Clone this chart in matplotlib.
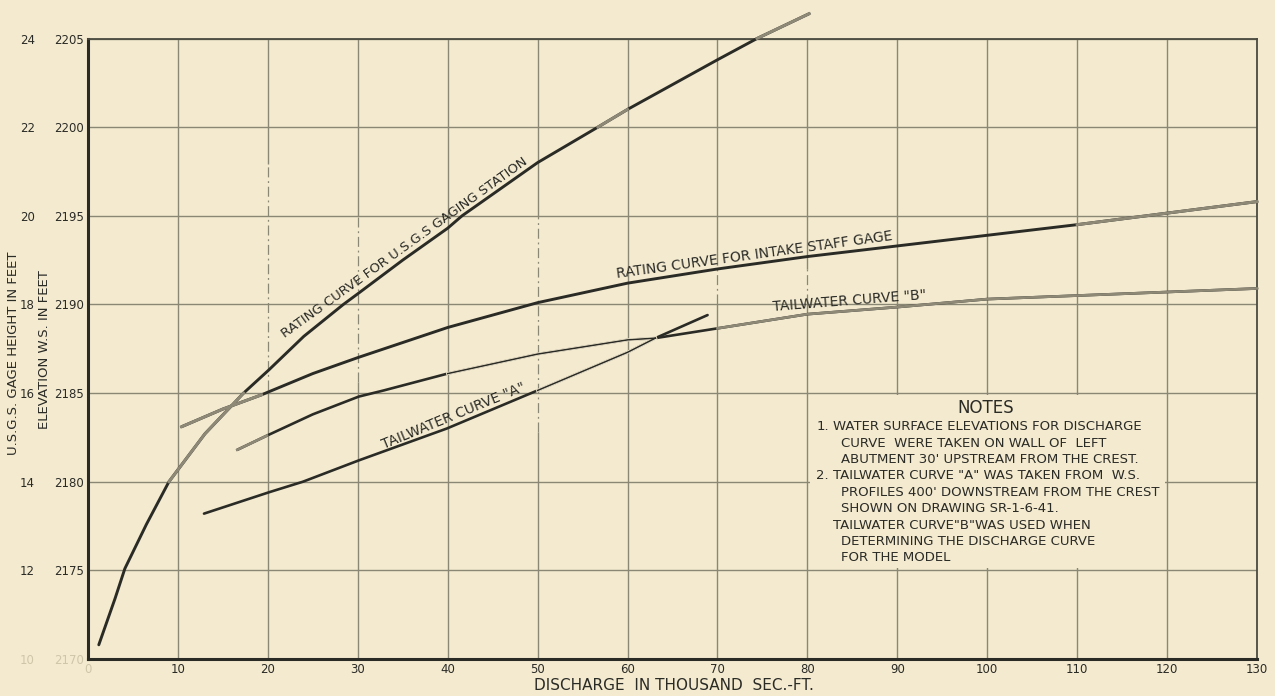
import numpy as np
import matplotlib
matplotlib.use("Agg")
import matplotlib.pyplot as plt
from matplotlib.patches import Rectangle

# Discharge (thousand sec-ft) vs water surface elevation (ft)
usgs_q = [1.2, 3.0, 4.1, 6.5, 9.0, 13.0, 17.3, 20.1, 24.0, 28.4, 30.0, 35.0, 40.0, 41.6, 50.0, 56.7, 60.0, 70.0, 74.4, 80.2]
usgs_el = [2170.8, 2173.4, 2175.1, 2177.6, 2180.0, 2182.7, 2185.0, 2186.3, 2188.2, 2190.0, 2190.6, 2192.5, 2194.3, 2195.0, 2198.0, 2200.0, 2201.0, 2203.8, 2205.0, 2206.4]

intake_q = [10.4, 15.0, 19.3, 20.0, 25.0, 30.0, 40.0, 50.0, 60.0, 70.0, 80.0, 90.0, 100.0, 110.0, 120.0, 130.0]
intake_el = [2183.1, 2184.1, 2184.9, 2185.05, 2186.1, 2187.0, 2188.7, 2190.1, 2191.2, 2192.0, 2192.7, 2193.3, 2193.9, 2194.5, 2195.15, 2195.8]

twa_q = [12.9, 20.1, 23.9, 30.1, 39.9, 50.0, 60.0, 63.1, 68.9]
twa_el = [2178.2, 2179.4, 2180.0, 2181.2, 2183.0, 2185.15, 2187.3, 2188.1, 2189.4]

twb_q = [16.6, 19.9, 25.0, 30.1, 32.9, 40.0, 50.0, 60.0, 63.1, 70.0, 80.0, 90.0, 100.0, 110.0, 120.0, 130.0]
twb_el = [2181.8, 2182.6, 2183.8, 2184.8, 2185.15, 2186.1, 2187.2, 2188.0, 2188.1, 2188.65, 2189.45, 2189.85, 2190.3, 2190.5, 2190.7, 2190.9]

q_ticks = [0, 10, 20, 30, 40, 50, 60, 70, 80, 90, 100, 110, 120, 130]
elev_ticks = [2170, 2175, 2180, 2185, 2190, 2195, 2200, 2205]
gage_ticks = [10, 12, 14, 16, 18, 20, 22, 24]

notes_num = ["1.", "", "", "2.", "", "", "", "", ""]
notes_txt = [
    "WATER SURFACE ELEVATIONS FOR DISCHARGE",
    " CURVE  WERE TAKEN ON WALL OF  LEFT",
    " ABUTMENT 30' UPSTREAM FROM THE CREST.",
    "TAILWATER CURVE \"A\" WAS TAKEN FROM  W.S.",
    " PROFILES 400' DOWNSTREAM FROM THE CREST",
    " SHOWN ON DRAWING SR-1-6-41.",
    "TAILWATER CURVE\"B\"WAS USED WHEN",
    " DETERMINING THE DISCHARGE CURVE",
    " FOR THE MODEL",
]

bg = "#F3EAD0"
ink = "#2B2B26"
gray_ink = "#8E8977"
grid = "#8A8874"
faded = "#CFC6AA"

fig = plt.figure(figsize=(12.75, 6.96), dpi=100, facecolor=bg)
ax = fig.add_axes([88 / 1275, 37 / 696, 1169 / 1275, 620.5 / 696])
ax.set_facecolor(bg)
ax.set_xlim(0, 130)
ax.set_ylim(2170, 2205)
ax.set_axisbelow(True)

ax.set_xticks(q_ticks)
ax.set_yticks(elev_ticks)
ax.grid(True, axis="y", color=grid, lw=1.0)
ax.tick_params(length=0, labelsize=8.5, colors=ink)
ax.tick_params(axis="x", pad=3)
ax.tick_params(axis="y", pad=3)
for lab in (ax.get_xticklabels()[0], ax.get_yticklabels()[0]):
    lab.set_color(faded)

# vertical grid, with the dash-dot construction stretches of the drawing
dashdot = {20: (2185.2, 2197.9), 30: (2185.6, 2195.0), 50: (2182.8, 2195.0), 70: (2190.0, 2192.2), 80: (2190.0, 2192.0)}
for q in q_ticks[1:-1]:
    if q in dashdot:
        lo, hi = dashdot[q]
        ax.vlines(q, 2170, lo, color=grid, lw=1.0, zorder=0.5)
        ax.vlines(q, hi, 2205, color=grid, lw=1.0, zorder=0.5)
        ax.vlines(q, lo, hi, color=grid, lw=0.9, linestyles=(0, (8, 3, 1.5, 3)), zorder=0.5)
    else:
        ax.vlines(q, 2170, 2205, color=grid, lw=1.0, zorder=0.5)

for s in ("left", "bottom"):
    ax.spines[s].set_color(ink)
    ax.spines[s].set_linewidth(2.2)
for s in ("top", "right"):
    ax.spines[s].set_color("#4A4A40")
    ax.spines[s].set_linewidth(1.3)

# gage height scale
sec = ax.secondary_yaxis(-0.043, functions=(lambda e: (e - 2145) / 2.5, lambda g: g * 2.5 + 2145))
sec.set_yticks(gage_ticks)
sec.tick_params(length=0, labelsize=8.5, colors=ink, pad=2)
sec.spines["left"].set_visible(False)
sec.get_yticklabels()[0].set_color(faded)

# notes area (grid cleared)
ax.add_patch(Rectangle((80.25, 2175.12), 39.5, 9.76, facecolor=bg, edgecolor="none", zorder=0.8))


def plot_curve(q, el, lw, gray_spans=(), thin_spans=()):
    q = np.asarray(q)
    el = np.asarray(el)
    ax.plot(q, el, color=ink, lw=lw, clip_on=False, zorder=3, solid_capstyle="round")
    for lo, hi in thin_spans:
        m = (q >= lo) & (q <= hi)
        ax.plot(q[m], el[m], color=bg, lw=lw + 0.4, clip_on=False, zorder=3.1)
        ax.plot(q[m], el[m], color=ink, lw=1.1, clip_on=False, zorder=3.2)
    for lo, hi in gray_spans:
        m = (q >= lo) & (q <= hi)
        ax.plot(q[m], el[m], color=gray_ink, lw=lw, clip_on=False, zorder=3.3)


plot_curve(usgs_q, usgs_el, 2.1, gray_spans=[(9.0, 17.3), (56.7, 60.0), (74.4, 80.2)])
plot_curve(intake_q, intake_el, 2.1, gray_spans=[(10.4, 19.3), (110.0, 130.0)])
plot_curve(twa_q, twa_el, 1.9, thin_spans=[(50.0, 63.1)])
plot_curve(twb_q, twb_el, 1.9, gray_spans=[(16.6, 19.9), (70.0, 130.0)], thin_spans=[(40.0, 63.1)])


def label_curve(q, el, xc, text, gap, size):
    y0 = np.interp(xc, q, el)
    p1 = ax.transData.transform((xc - 1.5, np.interp(xc - 1.5, q, el)))
    p2 = ax.transData.transform((xc + 1.5, np.interp(xc + 1.5, q, el)))
    ang = np.degrees(np.arctan2(p2[1] - p1[1], p2[0] - p1[0]))
    r = np.radians(ang)
    ax.annotate(text, xy=(xc, y0), xytext=(-np.sin(r) * gap, np.cos(r) * gap),
                textcoords="offset points", rotation=ang, rotation_mode="anchor",
                ha="center", va="bottom", fontsize=size, color=ink, zorder=4)


label_curve(usgs_q, usgs_el, 35.8, "RATING CURVE FOR U.S.G.S GAGING STATION", 2.0, 9.5)
label_curve(intake_q, intake_el, 74.2, "RATING CURVE FOR INTAKE STAFF GAGE", 1.5, 10)
label_curve(twa_q, twa_el, 41.0, "TAILWATER CURVE \"A\"", 1.5, 10)
label_curve(twb_q, twb_el, 84.8, "TAILWATER CURVE \"B\"", 2.0, 10)

# notes
ax.text(99.8, 2184.15, "NOTES", ha="center", va="center", fontsize=12, color=ink)
for i, (num, line) in enumerate(zip(notes_num, notes_txt)):
    y = 2183.1 - i * 0.925
    if num:
        ax.text(81.0, y, num, ha="left", va="center", fontsize=9.5, color=ink)
    x = 82.9 if not line.startswith(" ") else 83.7
    ax.text(x, y, line.strip(), ha="left", va="center", fontsize=9.5, color=ink)

# axis titles
fig.text(674 / 1275, 1 - 686 / 696, "DISCHARGE  IN THOUSAND  SEC.-FT.", ha="center", va="center",
         fontsize=11, color=ink)
fig.text(14 / 1275, 1 - 353 / 696, "U.S.G.S. GAGE HEIGHT IN FEET", rotation=90, ha="center",
         va="center", fontsize=9.5, color=ink)
fig.text(45 / 1275, 1 - 350 / 696, "ELEVATION W.S. IN FEET", rotation=90, ha="center",
         va="center", fontsize=9.5, color=ink)

fig.savefig("out.png", dpi=100, facecolor=bg)
